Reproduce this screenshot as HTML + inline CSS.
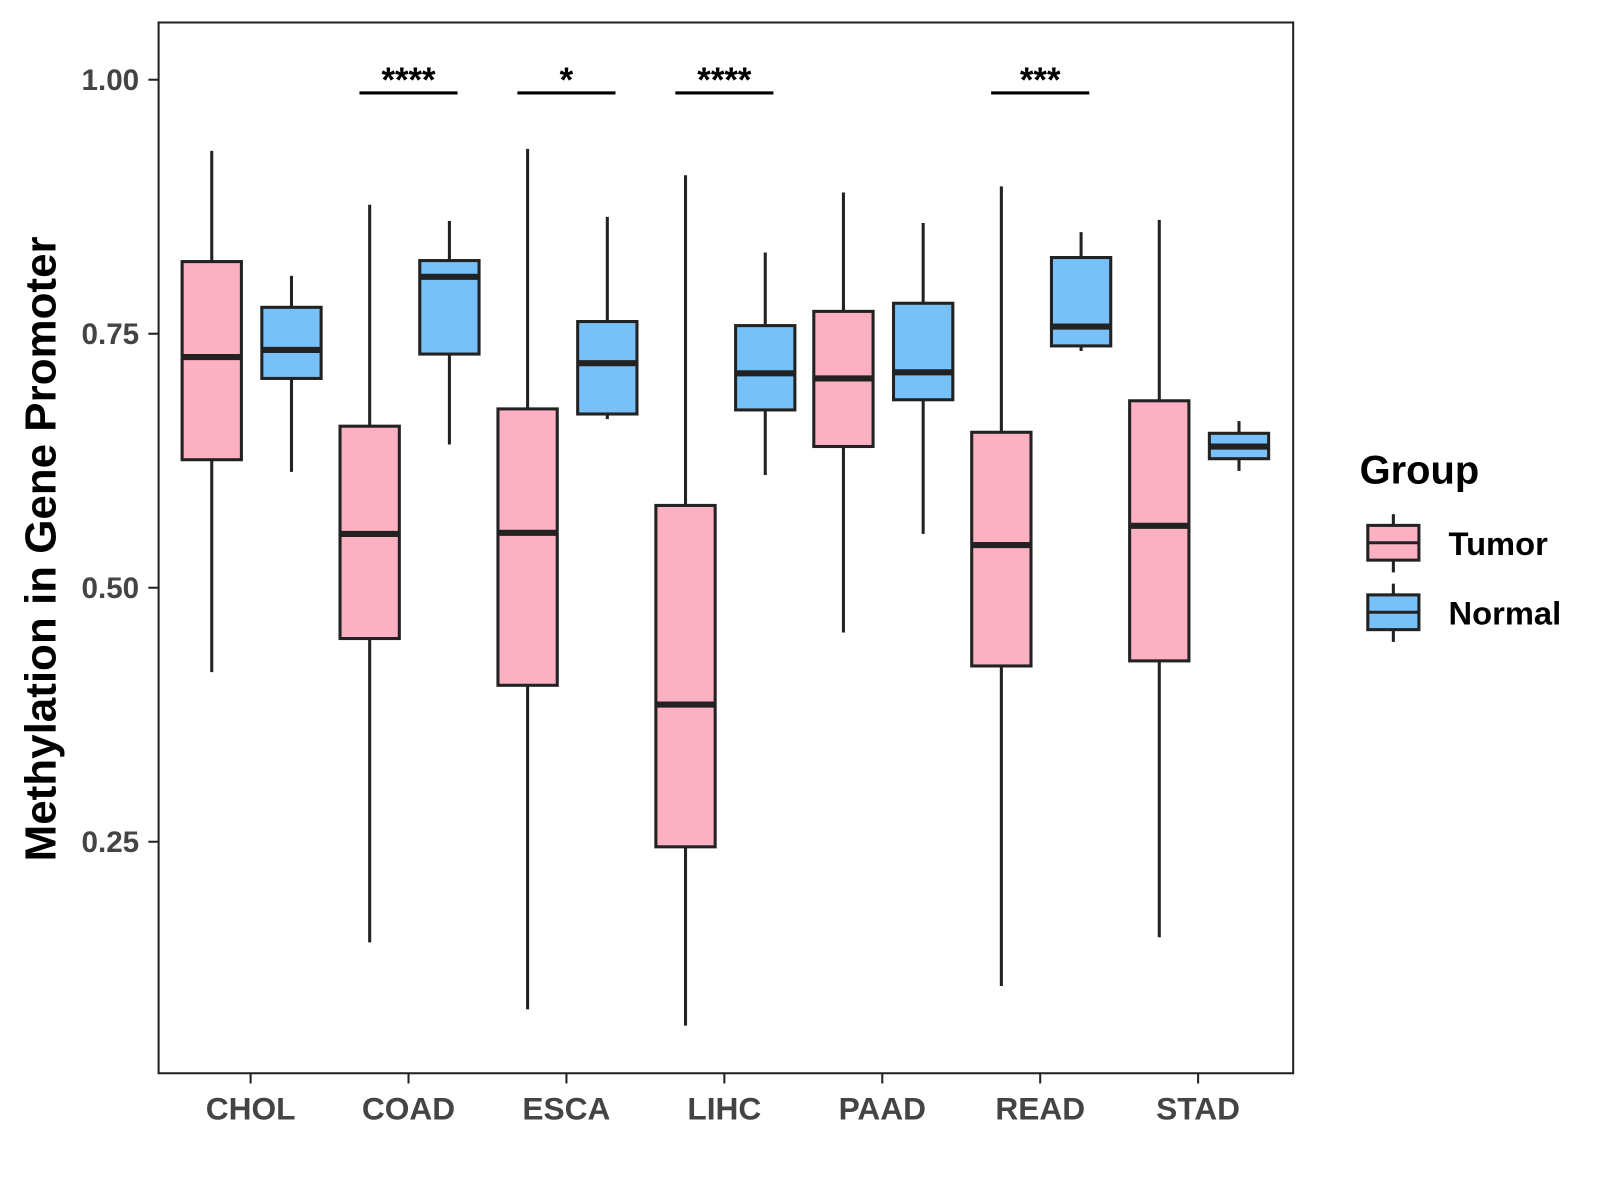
<!DOCTYPE html>
<html><head><meta charset="utf-8"><style>
html,body{margin:0;padding:0;background:#fff}
svg{display:block;font-family:"Liberation Sans",Arial,sans-serif}
</style></head><body>
<svg id="chart" width="1600" height="1200" viewBox="0 0 1565 1174">
<rect x="155" y="22" width="1110" height="1028" fill="#fff" stroke="#222" stroke-width="2"/>
<g id="marks"></g>
<g id="axes"></g>
<text x="54" y="537" transform="rotate(-90 54 537)" text-anchor="middle" font-size="43" font-weight="bold" fill="#000">Methylation in Gene Promoter</text>
<g>
<text x="1330" y="473" font-size="39" font-weight="bold" fill="#000">Group</text>
<g>
<line x1="1363" y1="503" x2="1363" y2="560" stroke="#222" stroke-width="3"/>
<rect x="1338" y="514" width="50" height="34" fill="#FBB1C2" stroke="#222" stroke-width="3"/>
<line x1="1338" y1="531" x2="1388" y2="531" stroke="#222" stroke-width="3"/>
<text x="1417" y="543" font-size="32" font-weight="bold" fill="#000">Tumor</text>
</g>
<g>
<line x1="1363" y1="571" x2="1363" y2="628" stroke="#222" stroke-width="3"/>
<rect x="1338" y="582" width="50" height="34" fill="#77C1F8" stroke="#222" stroke-width="3"/>
<line x1="1338" y1="599" x2="1388" y2="599" stroke="#222" stroke-width="3"/>
<text x="1417" y="611" font-size="32" font-weight="bold" fill="#000">Normal</text>
</g>
</g>
</svg>
<script>
const categories=["CHOL","COAD","ESCA","LIHC","PAAD","READ","STAD"];
// [low, q1, median, q3, high]
const tumorStats=[[0.417,0.626,0.727,0.821,0.930],[0.151,0.450,0.553,0.659,0.877],[0.085,0.404,0.554,0.676,0.932],[0.069,0.245,0.385,0.581,0.906],[0.456,0.639,0.706,0.772,0.889],[0.108,0.423,0.542,0.653,0.895],[0.156,0.428,0.561,0.684,0.862]];
const normalStats=[[0.614,0.706,0.734,0.776,0.807],[0.641,0.730,0.806,0.822,0.861],[0.666,0.671,0.721,0.762,0.865],[0.611,0.675,0.711,0.758,0.830],[0.553,0.685,0.712,0.780,0.859],[0.733,0.738,0.757,0.825,0.850],[0.615,0.627,0.639,0.652,0.664]];
const yTicks=[0.25,0.50,0.75,1.00];
const yTickLabels=["0.25","0.50","0.75","1.00"];
const sigCategories=["COAD","ESCA","LIHC","READ"];
const sigLabels=["****","*","****","***"];
const sigLevel=0.987;

const NS="http://www.w3.org/2000/svg";
function y(v){return 78+(1-v)*994;}
function x(i){return 245+i*154.5;}
function mk(tag,attrs,parent){const e=document.createElementNS(NS,tag);for(const k in attrs)e.setAttribute(k,attrs[k]);parent.appendChild(e);return e;}
const marks=document.getElementById('marks'),axes=document.getElementById('axes');
function box(cx,s,fill,name){
  const g=mk('g',{},marks);
  
  
  mk('line',{x1:cx,x2:cx,y1:y(s[4]),y2:y(s[3]),stroke:'#222','stroke-width':3},g);
  mk('line',{x1:cx,x2:cx,y1:y(s[1]),y2:y(s[0]),stroke:'#222','stroke-width':3},g);
  mk('rect',{x:cx-29,y:y(s[3]),width:58,height:y(s[1])-y(s[3]),fill:fill,stroke:'#222','stroke-width':3},g);
  mk('line',{x1:cx-29,x2:cx+29,y1:y(s[2]),y2:y(s[2]),stroke:'#222','stroke-width':6},g);
}
categories.forEach((c,i)=>{
  box(x(i)-38,tumorStats[i],'#FBB1C2','box-tumor-'+c.toLowerCase());
  box(x(i)+40,normalStats[i],'#77C1F8','box-normal-'+c.toLowerCase());
  mk('line',{x1:x(i),x2:x(i),y1:1050,y2:1060,stroke:'#222','stroke-width':2},axes);
  const t=mk('text',{x:x(i),y:1095,'text-anchor':'middle','font-size':31,'font-weight':'bold',fill:'#444'},axes);
  
  
  t.textContent=c;
});
yTicks.forEach((v,i)=>{
  mk('line',{x1:145,x2:155,y1:y(v),y2:y(v),stroke:'#222','stroke-width':2},axes);
  const t=mk('text',{x:136,y:y(v)+10,'text-anchor':'end','font-size':29,'font-weight':'bold',fill:'#444'},axes);
  
  
  t.textContent=yTickLabels[i];
});
sigCategories.forEach((c,k)=>{
  const i=categories.indexOf(c);
  const g=mk('g',{},marks);
  
  
  mk('line',{x1:x(i)-48,x2:x(i)+48,y1:y(sigLevel),y2:y(sigLevel),stroke:'#000','stroke-width':3},g);
  const t=mk('text',{x:x(i),y:y(sigLevel)-1,'text-anchor':'middle','font-size':34,'font-weight':'bold',fill:'#000'},g);
  t.textContent=sigLabels[k];
});
</script>
</body></html>
